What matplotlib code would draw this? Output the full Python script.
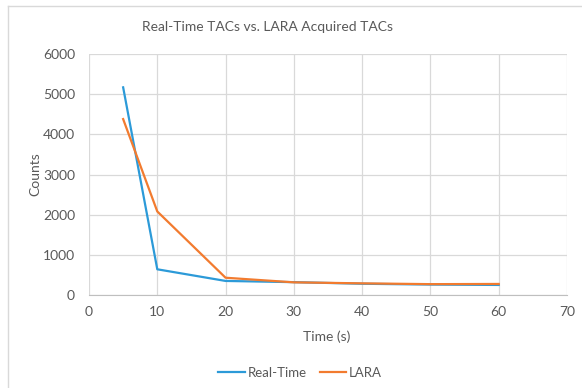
import matplotlib.pyplot as plt
from matplotlib.lines import Line2D

# time points (s) and counts for each acquisition
time_s = [5, 10, 20, 30, 40, 50, 60]
real_time = [5170, 640, 350, 320, 280, 260, 250]
lara = [4380, 2080, 430, 315, 290, 270, 275]

x_ticks = [0, 10, 20, 30, 40, 50, 60, 70]
y_ticks = [0, 1000, 2000, 3000, 4000, 5000, 6000]

plt.rcParams['font.family'] = ['Lato', 'DejaVu Sans']
txt = '#595959'
grid = '#d9d9d9'
W, H = 582, 388

fig = plt.figure(figsize=(5.82, 3.88), dpi=100)
ax = fig.add_axes([89 / W, 1 - 295 / H, (567 - 89) / W, (295 - 54) / H])

ax.plot(time_s, real_time, color='#2C9AD8', lw=1.6, label='Real-Time')
ax.plot(time_s, lara, color='#F27B2F', lw=1.6, label='LARA')

ax.set_xlim(0, 70)
ax.set_ylim(0, 6000)
ax.set_xticks(x_ticks)
ax.set_yticks(y_ticks)
ax.grid(True, color=grid, lw=0.9)
ax.set_axisbelow(True)
for s in ['top', 'right', 'left']:
    ax.spines[s].set_visible(False)
ax.spines['bottom'].set_color('#bfbfbf')
ax.tick_params(length=0, labelsize=10, colors=txt)
ax.tick_params(axis='y', pad=10)
ax.tick_params(axis='x', pad=8)

fig.text(268 / W, 1 - 27 / H, 'Real-Time TACs vs. LARA Acquired TACs', fontsize=10,
         color=txt, ha='center', va='center')
fig.text(327 / W, 1 - 337 / H, 'Time (s)', fontsize=10, color=txt, ha='center', va='center')
fig.text(35 / W, 1 - 174 / H, 'Counts', fontsize=10, color=txt, ha='center', va='center',
         rotation=90)

fig.legend(loc='center', bbox_to_anchor=(300 / W, 1 - 373 / H), ncol=2, frameon=False,
           fontsize=9.5, labelcolor=txt, handlelength=2.0, handletextpad=0.2,
           columnspacing=1.0)

# chart frame: only the left and top edges fall inside the image
fig.add_artist(Line2D([8 / W, 8 / W], [0, 1 - 6 / H], transform=fig.transFigure,
                      color='#d9d9d9', lw=1))
fig.add_artist(Line2D([8 / W, 1], [1 - 6 / H, 1 - 6 / H], transform=fig.transFigure,
                      color='#d9d9d9', lw=1))

fig.savefig('out.png', dpi=100)
